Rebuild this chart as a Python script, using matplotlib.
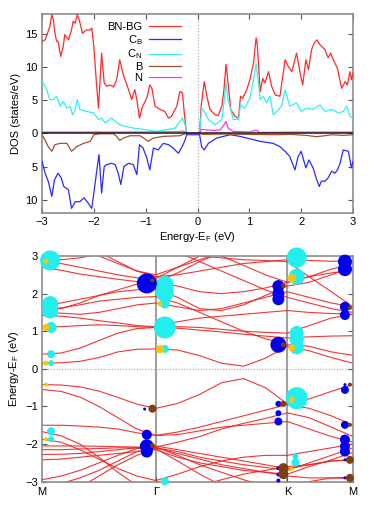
import matplotlib

matplotlib.use("Agg")
import matplotlib.pyplot as plt
from matplotlib.ticker import FixedLocator, FuncFormatter

plt.rcParams["font.family"] = ["Liberation Sans", "DejaVu Sans"]
plt.rcParams["mathtext.default"] = "regular"

# ---------------- DOS (top panel) ----------------
tot_e = [-3.0, -2.94, -2.88, -2.85, -2.81, -2.78, -2.75, -2.72, -2.69, -2.64, -2.59, -2.56, -2.49, -2.43,
         -2.40, -2.36, -2.32, -2.28, -2.22, -2.14, -2.07, -2.04, -2.0, -1.95, -1.91, -1.85, -1.80, -1.75,
         -1.69, -1.62, -1.56, -1.50, -1.43, -1.33, -1.27, -1.21, -1.17, -1.12, -1.06, -1.01, -0.97, -0.92,
         -0.88, -0.82, -0.72, -0.63, -0.56, -0.50, -0.40, -0.34, -0.29, -0.25, -0.21, 0.04, 0.07, 0.13,
         0.18, 0.24, 0.34, 0.40, 0.47, 0.51, 0.55, 0.59, 0.64, 0.72, 0.79, 0.83, 0.87, 0.95, 1.01, 1.08,
         1.13, 1.15, 1.21, 1.26, 1.30, 1.37, 1.43, 1.50, 1.59, 1.69, 1.75, 1.82, 1.91, 1.98, 2.03, 2.09,
         2.14, 2.20, 2.25, 2.30, 2.36, 2.46, 2.52, 2.57, 2.62, 2.70, 2.78, 2.85, 2.89, 2.94, 2.97, 3.0]
tot_dos = [13.9, 14.1, 15.4, 16.1, 17.9, 17.1, 15.1, 13.9, 13.9, 11.6, 13.1, 14.9, 14.1, 15.6,
           16.9, 16.6, 17.9, 17.1, 15.1, 15.6, 15.6, 15.9, 13.1, 7.6, 3.8, 12.1, 7.6, 7.1,
           7.3, 7.0, 8.1, 11.1, 8.8, 6.6, 5.1, 6.6, 5.1, 2.3, 4.1, 4.8, 5.6, 7.3,
           6.8, 4.1, 3.6, 3.3, 2.3, 2.6, 4.1, 6.3, 6.1, 2.6, 0.0, 0.0, 4.1, 7.8,
           5.6, 3.6, 2.8, 2.7, 4.1, 6.6, 10.4, 7.6, 3.6, 2.6, 2.3, 5.6, 5.3, 6.6, 8.1, 10.6,
           14.4, 13.6, 6.3, 8.3, 7.6, 9.3, 7.1, 5.8, 5.6, 11.1, 10.1, 9.3, 12.1, 9.1, 7.3, 11.1,
           9.6, 12.6, 13.6, 14.1, 13.4, 12.6, 11.4, 12.1, 11.1, 9.8, 6.8, 7.8, 7.3, 9.3, 8.1, 9.1]

cn_e = [-3.0, -2.91, -2.85, -2.78, -2.72, -2.65, -2.59, -2.52, -2.46, -2.41, -2.36, -2.32, -2.27, -2.14,
        -2.01, -1.91, -1.85, -1.78, -1.66, -1.50, -1.24, -0.98, -0.79, -0.60, -0.43, -0.34, -0.29, -0.24,
        -0.20, 0.04, 0.08, 0.13, 0.21, 0.34, 0.47, 0.51, 0.55, 0.59, 0.69, 0.79, 0.83, 0.91, 1.01, 1.08,
        1.13, 1.17, 1.21, 1.27, 1.33, 1.40, 1.46, 1.53, 1.62, 1.69, 1.78, 1.91, 2.0, 2.10, 2.23, 2.36,
        2.46, 2.59, 2.72, 2.81, 2.88, 2.94, 3.0]
cn_dos = [7.9, 6.6, 5.1, 5.1, 5.6, 4.1, 4.8, 3.8, 4.1, 2.8, 3.6, 5.1, 3.6, 3.3,
          3.1, 2.1, 2.3, 1.6, 2.3, 1.3, 0.8, 0.55, 0.3, 0.55, 0.8, 1.8, 2.3, 1.3,
          0.0, 0.0, 3.8, 3.3, 2.1, 1.3, 2.1, 4.6, 7.6, 5.1, 2.1, 2.1, 4.3, 3.8, 5.3, 8.1,
          10.5, 8.1, 5.1, 5.6, 4.6, 5.6, 2.8, 3.3, 4.1, 6.6, 4.1, 4.6, 3.3, 3.8, 3.6, 4.3,
          3.3, 3.6, 3.1, 3.3, 4.1, 2.6, 2.3]

# C_B and B are drawn downwards (magnitudes listed here)
cb_e = [-3.0, -2.94, -2.88, -2.81, -2.76, -2.69, -2.63, -2.58, -2.49, -2.43, -2.36, -2.27, -2.19, -2.11,
        -2.04, -2.0, -1.95, -1.90, -1.85, -1.80, -1.75, -1.66, -1.59, -1.53, -1.48, -1.42, -1.33, -1.24,
        -1.17, -1.12, -1.05, -0.98, -0.92, -0.85, -0.76, -0.66, -0.56, -0.47, -0.37, -0.31, -0.25, -0.21,
        0.04, 0.08, 0.13, 0.21, 0.37, 0.63, 0.82, 1.08, 1.21, 1.46, 1.59, 1.69, 1.78, 1.88, 1.94, 2.0,
        2.09, 2.15, 2.23, 2.30, 2.35, 2.39, 2.46, 2.52, 2.59, 2.65, 2.70, 2.75, 2.81, 2.91, 2.97, 3.0]
cb_dos = [4.2, 6.0, 7.2, 9.5, 7.0, 6.0, 6.7, 8.0, 8.5, 11.3, 10.3, 10.3, 9.7, 10.5,
          11.3, 9.0, 6.0, 3.2, 9.0, 5.0, 4.7, 4.5, 4.7, 6.0, 7.7, 5.0, 4.5, 4.7,
          6.2, 1.7, 2.2, 3.7, 5.5, 2.2, 2.5, 1.5, 1.7, 2.2, 3.0, 2.2, 1.2, 0.2,
          0.2, 2.0, 2.5, 1.5, 0.7, 0.2, 0.45, 0.95, 1.2, 1.5, 2.0, 2.7, 3.5, 5.5, 3.5, 2.7,
          5.2, 4.0, 5.2, 7.0, 8.0, 7.2, 7.2, 6.7, 5.7, 6.0, 5.5, 4.5, 2.5, 2.7, 5.2, 4.2]

b_e = [-3.0, -2.94, -2.88, -2.81, -2.75, -2.65, -2.52, -2.43, -2.33, -2.20, -2.07, -2.0, -1.88, -1.62,
       -1.56, -1.50, -1.43, -1.30, -1.11, -1.01, -0.95, -0.85, -0.66, -0.34, -0.24, 0.04, 0.10, 0.50,
       1.0, 1.5, 1.8, 2.1, 2.3, 2.4, 2.6, 2.8, 3.0]
b_dos = [0.2, 1.0, 2.0, 2.7, 1.7, 1.5, 1.5, 2.7, 2.0, 1.5, 1.2, 0.2, 0.05, 0.05,
         0.45, 1.05, 0.7, 0.35, 0.35, 0.85, 1.2, 0.7, 0.45, 0.35, 0.05, 0.0, 0.15, 0.1,
         0.15, 0.2, 0.15, 0.3, 0.5, 0.4, 0.2, 0.3, 0.2]

n_e = [-3.0, -1.5, -0.35, -0.30, -0.22, -0.20, 0.04, 0.07, 0.15, 0.31, 0.44, 0.51, 0.55, 0.59, 0.69,
       1.01, 1.10, 1.15, 1.19, 2.0, 3.0]
n_dos = [0.2, 0.2, 0.25, 0.35, 0.2, 0.0, 0.0, 0.6, 0.55, 0.45, 0.55, 1.3, 1.8, 0.8, 0.3,
         0.2, 0.45, 0.45, 0.15, 0.2, 0.2]

# ---------------- band structure (bottom panel) ----------------
k_nodes = [0.0, 0.061, 0.122, 0.183, 0.244, 0.305, 0.366, 0.436, 0.507, 0.577, 0.648, 0.718, 0.789,
           0.859, 0.930, 1.0]
k_ticks = [0.0, 0.366, 0.789, 1.0]
k_labels = ["M", "Γ", "K", "M"]

bands = [
    [0.15, 0.16, 0.2, 0.3, 0.45, 0.52, 0.53, 0.5, 0.35, 0.15, 0.07, 0.28, 0.6, 0.48, 0.3, 0.15],
    [0.39, 0.42, 0.55, 0.75, 0.95, 1.07, 1.1, 1.12, 1.1, 1.05, 1.0, 0.97, 0.95, 1.15, 1.35, 1.45],
    [1.12, 1.12, 1.15, 1.17, 1.15, 1.12, 1.1, 1.08, 1.03, 0.98, 0.92, 0.87, 0.82, 0.85, 0.87, 0.88],
    [1.5, 1.48, 1.45, 1.5, 1.6, 1.7, 1.75, 1.65, 1.55, 1.6, 1.75, 1.9, 2.05, 1.9, 1.75, 1.65],
    [1.6, 1.62, 1.7, 1.8, 1.85, 1.9, 1.92, 1.75, 1.5, 1.25, 1.0, 0.8, 0.64, 0.6, 0.45, 0.36],
    [1.7, 1.75, 1.85, 1.95, 2.05, 2.1, 2.12, 1.9, 1.6, 1.55, 1.7, 1.95, 2.2, 2.3, 2.5, 2.7],
    [1.55, 1.6, 1.75, 1.95, 2.1, 2.25, 2.3, 2.2, 2.05, 2.0, 2.05, 2.15, 2.3, 2.45, 2.65, 2.8],
    [1.42, 1.4, 1.35, 1.28, 1.22, 1.15, 1.12, 1.25, 1.35, 1.4, 1.45, 1.5, 1.55, 1.5, 1.47, 1.45],
    [2.7, 2.62, 2.52, 2.45, 2.38, 2.32, 2.3, 2.55, 2.85, 3.1, 3.3, 3.4, 3.5, 3.4, 3.3, 3.2],
    [2.85, 2.8, 2.7, 2.6, 2.5, 2.42, 2.4, 2.7, 3.0, 3.2, 3.4, 3.5, 3.6, 3.5, 3.4, 3.3],
    [3.6, 3.5, 3.4, 3.3, 3.2, 3.3, 3.4, 3.1, 2.85, 2.6, 2.35, 2.1, 1.9, 1.75, 1.6, 1.5],
    [3.8, 3.7, 3.6, 3.5, 3.5, 3.55, 3.6, 3.4, 3.2, 3.0, 2.75, 2.5, 2.3, 2.45, 2.55, 2.62],
    [3.3, 3.2, 3.1, 3.0, 2.8, 2.6, 2.45, 2.5, 2.6, 2.7, 2.8, 2.85, 2.9, 2.88, 2.86, 2.86],
    [3.6, 3.5, 3.3, 3.1, 2.85, 2.6, 2.5, 2.7, 2.9, 3.1, 3.3, 3.4, 3.5, 3.5, 3.5, 3.5],
    [2.88, 2.9, 2.95, 3.05, 3.15, 3.2, 3.2, 3.1, 3.0, 2.95, 2.9, 2.88, 2.85, 2.45, 2.05, 1.65],
    [-0.42, -0.43, -0.48, -0.59, -0.76, -0.94, -1.05, -0.92, -0.68, -0.37, -0.26, -0.5, -0.93, -0.8, -0.6, -0.42],
    [-0.55, -0.6, -0.75, -1.0, -1.3, -1.6, -1.77, -1.68, -1.55, -1.4, -1.25, -1.1, -0.95, -1.05, -1.25, -1.5],
    [-1.5, -1.5, -1.52, -1.55, -1.6, -1.7, -1.77, -1.75, -1.65, -1.55, -1.5, -1.45, -1.4, -1.6, -1.8, -1.95],
    [-1.67, -1.78, -2.0, -2.35, -2.75, -3.1, -3.3, -3.25, -3.1, -2.95, -2.8, -2.7, -2.6, -2.55, -2.45, -2.42],
    [-1.87, -1.95, -2.15, -2.4, -2.65, -2.85, -2.97, -2.8, -2.6, -2.45, -2.35, -2.3, -2.3, -2.2, -2.1, -2.0],
    [-2.95, -2.85, -2.7, -2.5, -2.3, -2.12, -2.05, -2.15, -2.25, -2.35, -2.45, -2.55, -2.65, -2.55, -2.45, -2.42],
    [-3.1, -3.05, -2.9, -2.7, -2.45, -2.2, -2.1, -2.25, -2.4, -2.55, -2.65, -2.75, -2.85, -2.9, -2.9, -2.92],
    [-2.05, -2.05, -2.05, -2.06, -2.07, -2.08, -2.08, -1.95, -1.8, -1.6, -1.45, -1.32, -1.17, -1.3, -1.55, -1.8],
    [-2.15, -2.15, -2.13, -2.12, -2.1, -2.1, -2.1, -2.2, -2.35, -2.45, -2.55, -2.62, -2.7, -2.5, -2.3, -2.1],
    [-2.28, -2.27, -2.25, -2.2, -2.15, -2.1, -2.08, -2.3, -2.55, -2.75, -2.95, -3.1, -3.2, -3.0, -2.9, -2.88],
    [-2.42, -2.4, -2.35, -2.3, -2.25, -2.2, -2.15, -2.35, -2.5, -2.6, -2.7, -2.75, -2.8, -2.6, -2.42, -2.22],
    [-3.6, -3.4, -3.15, -2.85, -2.55, -2.3, -2.12, -2.45, -2.8, -3.1, -3.3, -3.4, -3.5, -3.4, -3.3, -3.2],
]

# projection weights (k, E, weight) per orbital character
cyan_k = [0.026, 0.026, 0.026, 0.029, 0.029, 0.029, 0.029, 0.029,
          0.395, 0.395, 0.395, 0.395, 0.395, 0.395,
          0.819, 0.819, 0.819, 0.819, 0.819, 0.819, 0.815, 0.815]
cyan_e = [2.88, 1.72, 1.55, 1.1, 0.39, 0.15, -1.66, -1.87,
          2.23, 2.02, 1.74, 1.1, 0.53, -2.99,
          2.96, 2.45, 0.95, 0.77, 0.57, -0.78, -2.33, -2.49]
cyan_w = [10, 8, 8, 5.5, 4, 3, 4, 3,
          9, 9, 5, 11, 4, 4,
          10, 8, 7, 7, 7, 11, 3, 4]

blue_k = [0.337, 0.337, 0.337, 0.337, 0.330,
          0.760, 0.760, 0.760, 0.760, 0.760, 0.760, 0.760, 0.760, 0.760, 0.760,
          0.974, 0.974, 0.974, 0.974, 0.974, 0.974, 0.974, 0.974, 0.974, 0.974, 0.974, 0.974]
blue_e = [2.27, -1.75, -2.06, -2.2, -1.07,
          2.2, 2.0, 1.85, 0.64, -0.93, -1.18, -1.4, -2.64, -2.81, -2.97,
          2.85, 2.65, 1.65, 1.43, -0.42, -0.56, -1.49, -1.88, -2.06, -2.2, -2.42, -2.9]
blue_w = [10, 5, 7, 6, 1.5,
          6, 6, 6, 8, 3, 3, 4, 2, 2, 2,
          7, 7, 5, 5, 1.5, 4, 4, 5, 5, 5, 1.5, 1.5]

gold_k = [0.013, 0.013, 0.013, 0.013, 0.013, 0.379, 0.379, 0.803, 0.803, 0.803, 0.803]
gold_e = [2.86, 1.1, 0.15, -0.42, -1.87, 1.73, 0.52, 2.41, 0.55, -0.82, -2.66]
gold_w = [2.5, 3.5, 2.5, 2, 2, 2.5, 4, 4, 3.5, 3, 2]

brown_k = [0.355, 0.355, 0.355, 0.776, 0.776, 0.776, 0.776, 0.776, 0.990, 0.990, 0.990, 0.990, 0.990]
brown_e = [2.35, -1.06, -2.04, 2.21, 0.64, -0.93, -2.64, -2.8, 1.62, -0.42, -1.49, -2.42, -2.9]
brown_w = [2, 4, 2.5, 2.5, 2.5, 3, 5, 5, 2, 2, 2, 4, 4]

BORDER = "#8c8c8c"
FS = 8


def style_axes(ax):
    for sp in ax.spines.values():
        sp.set_color(BORDER)
        sp.set_linewidth(1.2)
    ax.tick_params(direction="in", top=True, right=True, length=3.5, width=0.8,
                   color="#555555", labelsize=FS, pad=3)


fig = plt.figure(figsize=(3.74, 5.05), dpi=100)

# ---- top: DOS ----
ax1 = fig.add_axes([0.1123, 0.5782, 0.8316, 0.3941])
style_axes(ax1)
ax1.axvline(0, color="#b0b0b0", lw=0.9, ls=(0, (1, 1.5)), zorder=1)
ax1.plot(tot_e, tot_dos, color="#ff2a2a", lw=0.9, label="BN-BG", zorder=3)
ax1.plot(cb_e, [-v for v in cb_dos], color="#2a2aff", lw=0.9, label="C$_B$", zorder=3)
ax1.plot(cn_e, cn_dos, color="#33f0f0", lw=0.9, label="C$_N$", zorder=3)
ax1.plot(b_e, [-v for v in b_dos], color="#a0522d", lw=0.9, label="B", zorder=3)
ax1.plot(n_e, n_dos, color="#ff33ff", lw=0.9, label="N", zorder=3)
ax1.axhline(0, color="#1a1a1a", lw=1.1, zorder=4)
ax1.set_xlim(-3, 3)
ax1.set_ylim(-12, 18)
ax1.xaxis.set_major_locator(FixedLocator([-3, -2, -1, 0, 1, 2, 3]))
ax1.yaxis.set_major_locator(FixedLocator([-10, -5, 0, 5, 10, 15]))
ax1.yaxis.set_major_formatter(FuncFormatter(lambda v, p: f"{abs(v):.0f}"))
ax1.set_xlabel("Energy-E$_F$ (eV)", fontsize=FS, labelpad=2)
ax1.set_ylabel("DOS (states/eV)", fontsize=FS, labelpad=3)
leg = ax1.legend(loc="upper right", bbox_to_anchor=(0.475, 1.0), frameon=False, markerfirst=False,
                 fontsize=FS, handlelength=2.9, handletextpad=0.6, labelspacing=0.06,
                 borderaxespad=0.35)
for t in leg.get_texts():
    t.set_ha("right")

# ---- bottom: bands ----
ax2 = fig.add_axes([0.1123, 0.0462, 0.8316, 0.4469])
style_axes(ax2)
for kx in k_ticks[1:3]:
    ax2.axvline(kx, color="#a0a0a0", lw=1.5, zorder=1)
ax2.axhline(0, color="#a0a0a0", lw=0.8, ls=(0, (1, 1.5)), zorder=1)
for b in bands:
    ax2.plot(k_nodes, b, color="#f02020", lw=0.8, alpha=0.9, zorder=2)


def size(w):
    return [(1.44 * r) ** 2 for r in w]


ax2.scatter(cyan_k, cyan_e, s=size(cyan_w), color="#22eeee", lw=0, zorder=5, clip_on=False)
ax2.scatter(blue_k, blue_e, s=size(blue_w), color="#0000ee", lw=0, zorder=6, clip_on=False)
ax2.scatter(gold_k, gold_e, s=size(gold_w), color="#ffc400", lw=0, zorder=7, clip_on=False)
ax2.scatter(brown_k, brown_e, s=size(brown_w), color="#7b4012", lw=0, zorder=8, clip_on=False)

ax2.set_xlim(0, 1)
ax2.set_ylim(-3, 3)
ax2.xaxis.set_major_locator(FixedLocator(k_ticks))
ax2.set_xticklabels(k_labels)
ax2.yaxis.set_major_locator(FixedLocator([-3, -2, -1, 0, 1, 2, 3]))
ax2.tick_params(axis="x", top=False, pad=4)
ax2.set_ylabel("Energy-E$_F$ (eV)", fontsize=FS, labelpad=3)

fig.savefig("out.png", dpi=100)
